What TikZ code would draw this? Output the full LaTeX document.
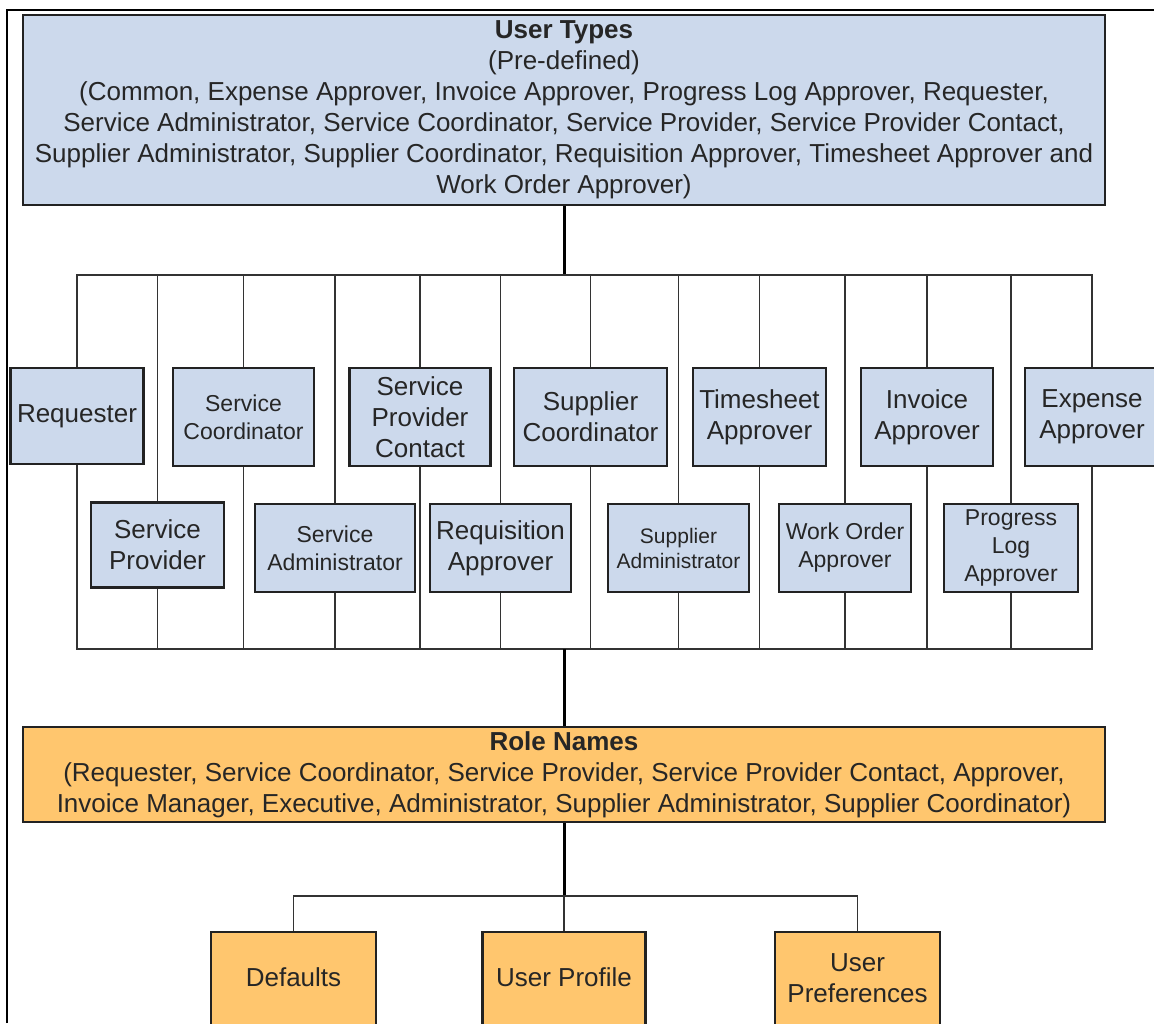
\documentclass[tikz,border=0pt]{standalone}
\usepackage{fontspec}
\setmainfont{Liberation Sans}
\definecolor{typeblue}{HTML}{CCD9EC}
\definecolor{roleorange}{HTML}{FFC66E}
\definecolor{boxline}{HTML}{222222}
\definecolor{wiregray}{HTML}{333333}
\tikzset{
    big/.style =    {font=\fontsize{26}{31}\selectfont},
    small/.style =  {font=\fontsize{23}{28}\selectfont},
    tiny/.style =   {font=\fontsize{21}{25}\selectfont},
    utype/.style =  {rectangle,
                    fill=typeblue,
                    draw=boxline,
                    text=black!85,
                    line width=2.6pt,
                    inner sep=0pt,
                    align=center,
                    big},
    role/.style =   {utype,
                    fill=roleorange},
    wire/.style =   {draw=wiregray,
                    line width=1.8pt},
    trunk/.style =  {draw=black,
                    line width=3pt}}
\begin{document}
\begin{tikzpicture}[x=1pt,y=-1pt]
            \useasboundingbox (0,0) rectangle (1154,1023);
            \draw[line width=1.4pt] (7,1023) -- (7,10) -- (1154,10);
            \node[utype,minimum width=1082pt,minimum height=190pt] (types) at (564,110)
                {\textbf{User Types}\\(Pre-defined)\\(Common, Expense Approver, Invoice Approver, Progress Log Approver, Requester,\\Service Administrator, Service Coordinator, Service Provider, Service Provider Contact,\\Supplier Administrator, Supplier Coordinator, Requisition Approver, Timesheet Approver and\\Work Order Approver)};
            \coordinate (top) at (564,275);
            \coordinate (bot) at (564,649);
            \coordinate (fan) at (564,896);
            \node[utype,minimum width=133pt,minimum height=96pt]  (req)       at (77,416)    {Requester};
            \node[utype,small,minimum width=141pt,minimum height=98pt] (scoord) at (243.5,417) {Service\\Coordinator};
            \node[utype,minimum width=141pt,minimum height=98pt]  (spcontact) at (420,417)   {Service\\Provider\\Contact};
            \node[utype,minimum width=153pt,minimum height=98pt]  (supcoord)  at (590.5,417) {Supplier\\Coordinator};
            \node[utype,minimum width=133pt,minimum height=98pt]  (timesheet) at (759.5,417) {Timesheet\\Approver};
            \node[utype,minimum width=132pt,minimum height=98pt]  (invoice)   at (927,417)   {Invoice\\Approver};
            \node[utype,minimum width=134pt,minimum height=98pt]  (expense)   at (1092,417)  {Expense\\Approver};
            \node[utype,minimum width=133pt,minimum height=85pt]  (sprov)     at (157.5,545) {Service\\Provider};
            \node[utype,small,minimum width=160pt,minimum height=88pt] (sadmin) at (335,548) {Service\\Administrator};
            \node[utype,minimum width=141pt,minimum height=88pt]  (reqapp)    at (500.5,548) {Requisition\\Approver};
            \node[utype,tiny,minimum width=141pt,minimum height=88pt] (supadmin) at (678.5,548) {Supplier\\Administrator};
            \node[utype,small,minimum width=132pt,minimum height=88pt] (workorder) at (845,548) {Work Order\\Approver};
            \node[utype,small,minimum width=134pt,minimum height=88pt] (progress) at (1011,548) {Progress\\Log\\Approver};
            \node[role,minimum width=1082pt,minimum height=95pt] (roles) at (564,774.5)
                {\textbf{Role Names}\\(Requester, Service Coordinator, Service Provider, Service Provider Contact, Approver,\\Invoice Manager, Executive, Administrator, Supplier Administrator, Supplier Coordinator)};
            \node[role,minimum width=165pt,minimum height=130pt,text depth=40pt] (defaults) at (293.5,997) {Defaults};
            \node[role,minimum width=163pt,minimum height=130pt,text depth=40pt] (profile)  at (564,997)   {User Profile};
            \node[role,minimum width=165pt,minimum height=130pt,text height=19pt,text depth=8pt] (prefs) at (857.5,997) {User\\Preferences};
            \draw[trunk] (types.south) -- (top);
            \draw[wire]  (req.north) |- (top);
            \draw[wire]  (sprov.north) |- (top);
            \draw[wire]  (scoord.north) |- (top);
            \draw[wire]  (sadmin.north) |- (top);
            \draw[wire]  (spcontact.north) |- (top);
            \draw[wire]  (reqapp.north) |- (top);
            \draw[wire]  (supcoord.north) |- (top);
            \draw[wire]  (supadmin.north) |- (top);
            \draw[wire]  (timesheet.north) |- (top);
            \draw[wire]  (workorder.north) |- (top);
            \draw[wire]  (invoice.north) |- (top);
            \draw[wire]  (progress.north) |- (top);
            \draw[wire]  (expense.north) |- (top);
            \draw[wire]  (req.south) |- (bot);
            \draw[wire]  (sprov.south) |- (bot);
            \draw[wire]  (scoord.south) |- (bot);
            \draw[wire]  (sadmin.south) |- (bot);
            \draw[wire]  (spcontact.south) |- (bot);
            \draw[wire]  (reqapp.south) |- (bot);
            \draw[wire]  (supcoord.south) |- (bot);
            \draw[wire]  (supadmin.south) |- (bot);
            \draw[wire]  (timesheet.south) |- (bot);
            \draw[wire]  (workorder.south) |- (bot);
            \draw[wire]  (invoice.south) |- (bot);
            \draw[wire]  (progress.south) |- (bot);
            \draw[wire]  (expense.south) |- (bot);
            \draw[trunk] (bot) -- (roles.north);
            \draw[trunk] (roles.south) -- (fan);
            \draw[wire]  (defaults.north) |- (fan);
            \draw[wire]  (profile.north) -- (fan);
            \draw[wire]  (prefs.north) |- (fan);
\end{tikzpicture}
\end{document}
